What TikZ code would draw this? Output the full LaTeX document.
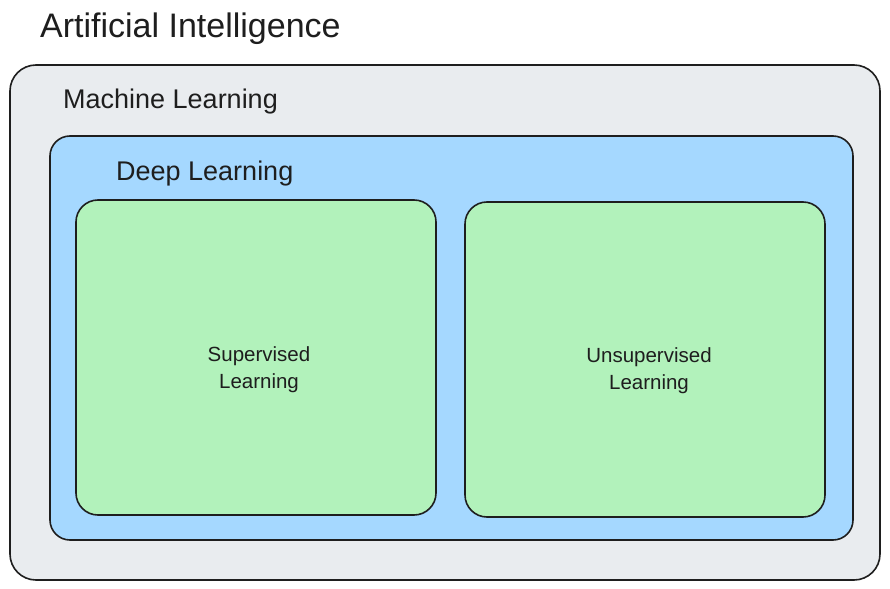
\documentclass[tikz,border=0pt]{standalone}
\usepackage{fontspec}
\setmainfont{Liberation Sans}
\definecolor{ink}{HTML}{1E1E1E}
\definecolor{aigray}{HTML}{E9ECEF}
\definecolor{dlblue}{HTML}{A5D8FF}
\definecolor{slgreen}{HTML}{B2F2BB}
\begin{document}
\begin{tikzpicture}[x=1pt,y=-1pt,
  box/.style={draw=ink,line width=1.6pt,rectangle,inner sep=0pt},
  lbl/.style={text=ink,inner sep=0pt,anchor=base west},
  inner/.style={text=ink,inner sep=0pt,align=center,font=\fontsize{20.5}{27}\selectfont}]
\useasboundingbox (0,0) rectangle (890,588);
\fill[white] (0,0) rectangle (890,588);
\node[box,fill=aigray,rounded corners=26pt,minimum width=870pt,minimum height=515pt] (ml) at (445,322.5) {};
\node[box,fill=dlblue,rounded corners=20pt,minimum width=803pt,minimum height=404pt] (dl) at (451.5,338) {};
\node[box,fill=slgreen,rounded corners=22pt,minimum width=360pt,minimum height=315pt] (sl) at (256,357.5) {};
\node[box,fill=slgreen,rounded corners=22pt,minimum width=360pt,minimum height=315pt] (ul) at (645,359.5) {};
\node[lbl,font=\fontsize{34}{40}\selectfont] (ai) at (40,38) {Artificial Intelligence};
\node[lbl,font=\fontsize{27}{32}\selectfont] (mlt) at (63,109) {Machine Learning};
\node[lbl,font=\fontsize{27}{32}\selectfont] (dlt) at (116,180) {Deep Learning};
\node[inner] (slt) at (259,370) {Supervised\\Learning};
\node[inner] (ult) at (649,371) {Unsupervised\\Learning};
\end{tikzpicture}
\end{document}
